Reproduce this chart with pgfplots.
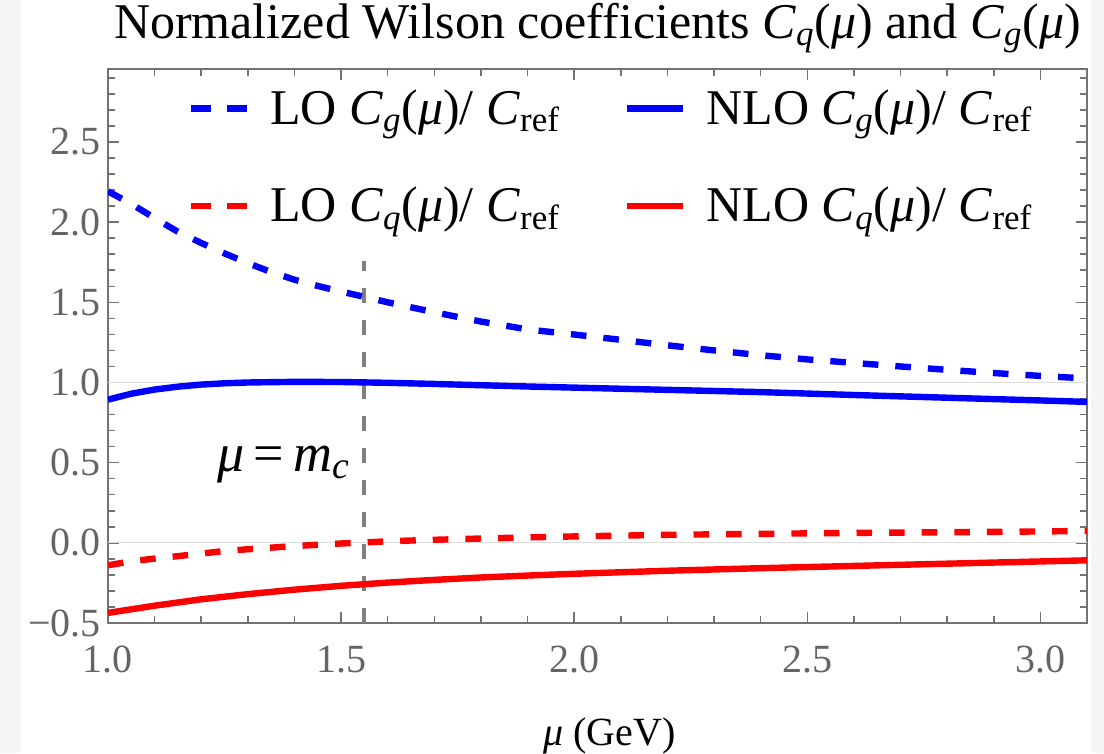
\documentclass[border=0pt]{standalone}
\usepackage{pgfplots}
\pgfplotsset{compat=1.18}
\usepackage{fontspec}
\setmainfont{Liberation Serif}
\definecolor{axgray}{RGB}{115,115,115}
\definecolor{tickgray}{RGB}{100,100,100}
\definecolor{gridgray}{RGB}{222,222,222}
\definecolor{mcgray}{RGB}{128,128,128}
\definecolor{bgstrip}{RGB}{245,245,245}
\newcommand{\Cg}{\textit{C}\textsubscript{\textit{g}}}
\newcommand{\Cq}{\textit{C}\textsubscript{\textit{q}}}
\newcommand{\Cref}{\textit{C}\textsubscript{ref}}
\newcommand{\muu}{\textit{μ}}

\pgfplotstableread{
x y
1.00 2.192
1.05 2.114
1.10 2.025
1.15 1.940
1.20 1.870
1.25 1.805
1.30 1.744
1.35 1.689
1.40 1.641
1.45 1.602
1.50 1.567
1.55 1.534
1.60 1.500
1.70 1.438
1.80 1.380
1.90 1.331
2.00 1.299
2.10 1.266
2.20 1.232
2.30 1.200
2.40 1.170
2.50 1.144
2.60 1.122
2.70 1.100
2.80 1.079
2.90 1.059
3.00 1.041
3.10 1.025
}\LOg

\pgfplotstableread{
x y
1.00 0.893
1.05 0.930
1.10 0.956
1.15 0.974
1.20 0.987
1.25 0.995
1.30 1.000
1.40 1.004
1.50 1.003
1.60 0.998
1.70 0.991
1.80 0.983
1.90 0.975
2.00 0.968
2.20 0.954
2.40 0.940
2.60 0.922
2.80 0.905
3.00 0.888
3.10 0.879
}\NLOg

\pgfplotstableread{
x y
1.00 -0.140
1.05 -0.115
1.10 -0.098
1.15 -0.083
1.20 -0.067
1.25 -0.051
1.30 -0.040
1.40 -0.020
1.50 -0.004
1.55 0.002
1.60 0.010
1.70 0.019
1.80 0.027
1.90 0.034
2.00 0.040
2.20 0.050
2.40 0.056
2.60 0.062
2.80 0.066
3.00 0.071
3.10 0.074
}\LOq

\pgfplotstableread{
x y
1.00 -0.437
1.10 -0.392
1.20 -0.352
1.30 -0.320
1.40 -0.292
1.50 -0.268
1.60 -0.248
1.70 -0.231
1.80 -0.216
1.90 -0.204
2.00 -0.193
2.20 -0.174
2.40 -0.158
2.60 -0.144
2.80 -0.130
3.00 -0.116
3.10 -0.109
}\NLOq

\begin{document}
\begin{tikzpicture}
\begin{axis}[
  scale only axis, width=489.5pt, height=277pt,
  xmin=1, xmax=3.1, ymin=-0.5, ymax=2.955,
  axis line style={axgray, line width=0.75pt},
  xtick={1,1.5,2,2.5,3}, xticklabels={1.0,1.5,2.0,2.5,3.0},
  ytick={-0.5,0,0.5,1,1.5,2,2.5}, yticklabels={−0.5,0.0,0.5,1.0,1.5,2.0,2.5},
  minor xtick={1.1,1.2,1.3,1.4,1.6,1.7,1.8,1.9,2.1,2.2,2.3,2.4,2.6,2.7,2.8,2.9,3.1},
  minor ytick={-0.4,-0.3,-0.2,-0.1,0.1,0.2,0.3,0.4,0.6,0.7,0.8,0.9,1.1,1.2,1.3,1.4,1.6,1.7,1.8,1.9,2.1,2.2,2.3,2.4,2.6,2.7,2.8,2.9},
  tick align=inside, major tick length=5.3pt, minor tick length=3.3pt,
  every tick/.style={axgray, line width=0.75pt},
  tick label style={font=\fontsize{20}{24}\selectfont, text=tickgray},
  xticklabel style={anchor=base, yshift=-24.5pt},
  yticklabel style={anchor=east, xshift=0pt},
  title={Normalized Wilson coefficients \Cq(\muu) and \Cg(\muu)},
  title style={font=\fontsize{25}{30}\selectfont, at={(axis description cs:0.5,1)}, anchor=base, yshift=9.5pt},
  xlabel={\muu{} (GeV)},
  xlabel style={font=\fontsize{20}{24}\selectfont, at={(axis description cs:0.5,0)}, anchor=base, yshift=-61pt, xshift=6pt},
  legend columns=2,
  legend cell align=left,
  legend style={draw=none, fill=none, inner sep=0pt, font=\fontsize{25}{30}\selectfont,
    at={(axis cs:1.17,2.405)}, anchor=west,
    nodes={inner sep=2pt},
    /tikz/row sep=26pt,
    /tikz/every odd column/.append style={column sep=8pt},
    /tikz/every even column/.append style={column sep=30pt}},
  legend image code/.code={\draw[#1] (0pt,0pt) -- (28pt,0pt);},
]
\addplot[gridgray, line width=0.6pt, forget plot] coordinates {(1,0) (3.1,0)};
\addplot[gridgray, line width=0.6pt, forget plot] coordinates {(1,1) (3.1,1)};
\addplot[mcgray, line width=2pt, dash pattern=on 7.5pt off 8.5pt, forget plot] coordinates {(1.55,-0.5) (1.55,1.76)};
\addplot[blue, line width=3.2pt, dash pattern=on 7.8pt off 8.5pt, forget plot] table[x=x,y=y] {\LOg};
\addplot[blue, line width=3.2pt, forget plot] table[x=x,y=y] {\NLOg};
\addplot[red, line width=3.2pt, dash pattern=on 7.8pt off 8.5pt, forget plot] table[x=x,y=y] {\LOq};
\addplot[red, line width=3.2pt, forget plot] table[x=x,y=y] {\NLOq};
\addlegendimage{blue, line width=3.2pt, dash pattern=on 10pt off 8pt}
\addlegendentry{LO \Cg(\muu)/ \Cref}
\addlegendimage{blue, line width=3.2pt}
\addlegendentry{NLO \Cg(\muu)/ \Cref}
\addlegendimage{red, line width=3.2pt, dash pattern=on 10pt off 8pt}
\addlegendentry{LO \Cq(\muu)/ \Cref}
\addlegendimage{red, line width=3.2pt}
\addlegendentry{NLO \Cq(\muu)/ \Cref}
\node[anchor=east, font=\fontsize{27}{32}\selectfont, inner sep=0pt] at (axis cs:1.52,0.49) {\muu\,=\,\textit{m}\textsubscript{\textit{c}}};
\coordinate (bl) at (rel axis cs:0,0);
\coordinate (tr) at (rel axis cs:1,1);
\end{axis}
\pgfresetboundingbox
\path[use as bounding box] ([shift={(-54pt,-65pt)}]bl) rectangle ([shift={(8.5pt,34.5pt)}]tr);
\fill[bgstrip] ([shift={(-54pt,-65pt)}]bl) rectangle ([shift={(-43.5pt,34.5pt)}]bl |- tr);
\fill[bgstrip] ([shift={(2pt,-65pt)}]tr |- bl) rectangle ([shift={(8.5pt,34.5pt)}]tr);
\end{tikzpicture}
\end{document}
